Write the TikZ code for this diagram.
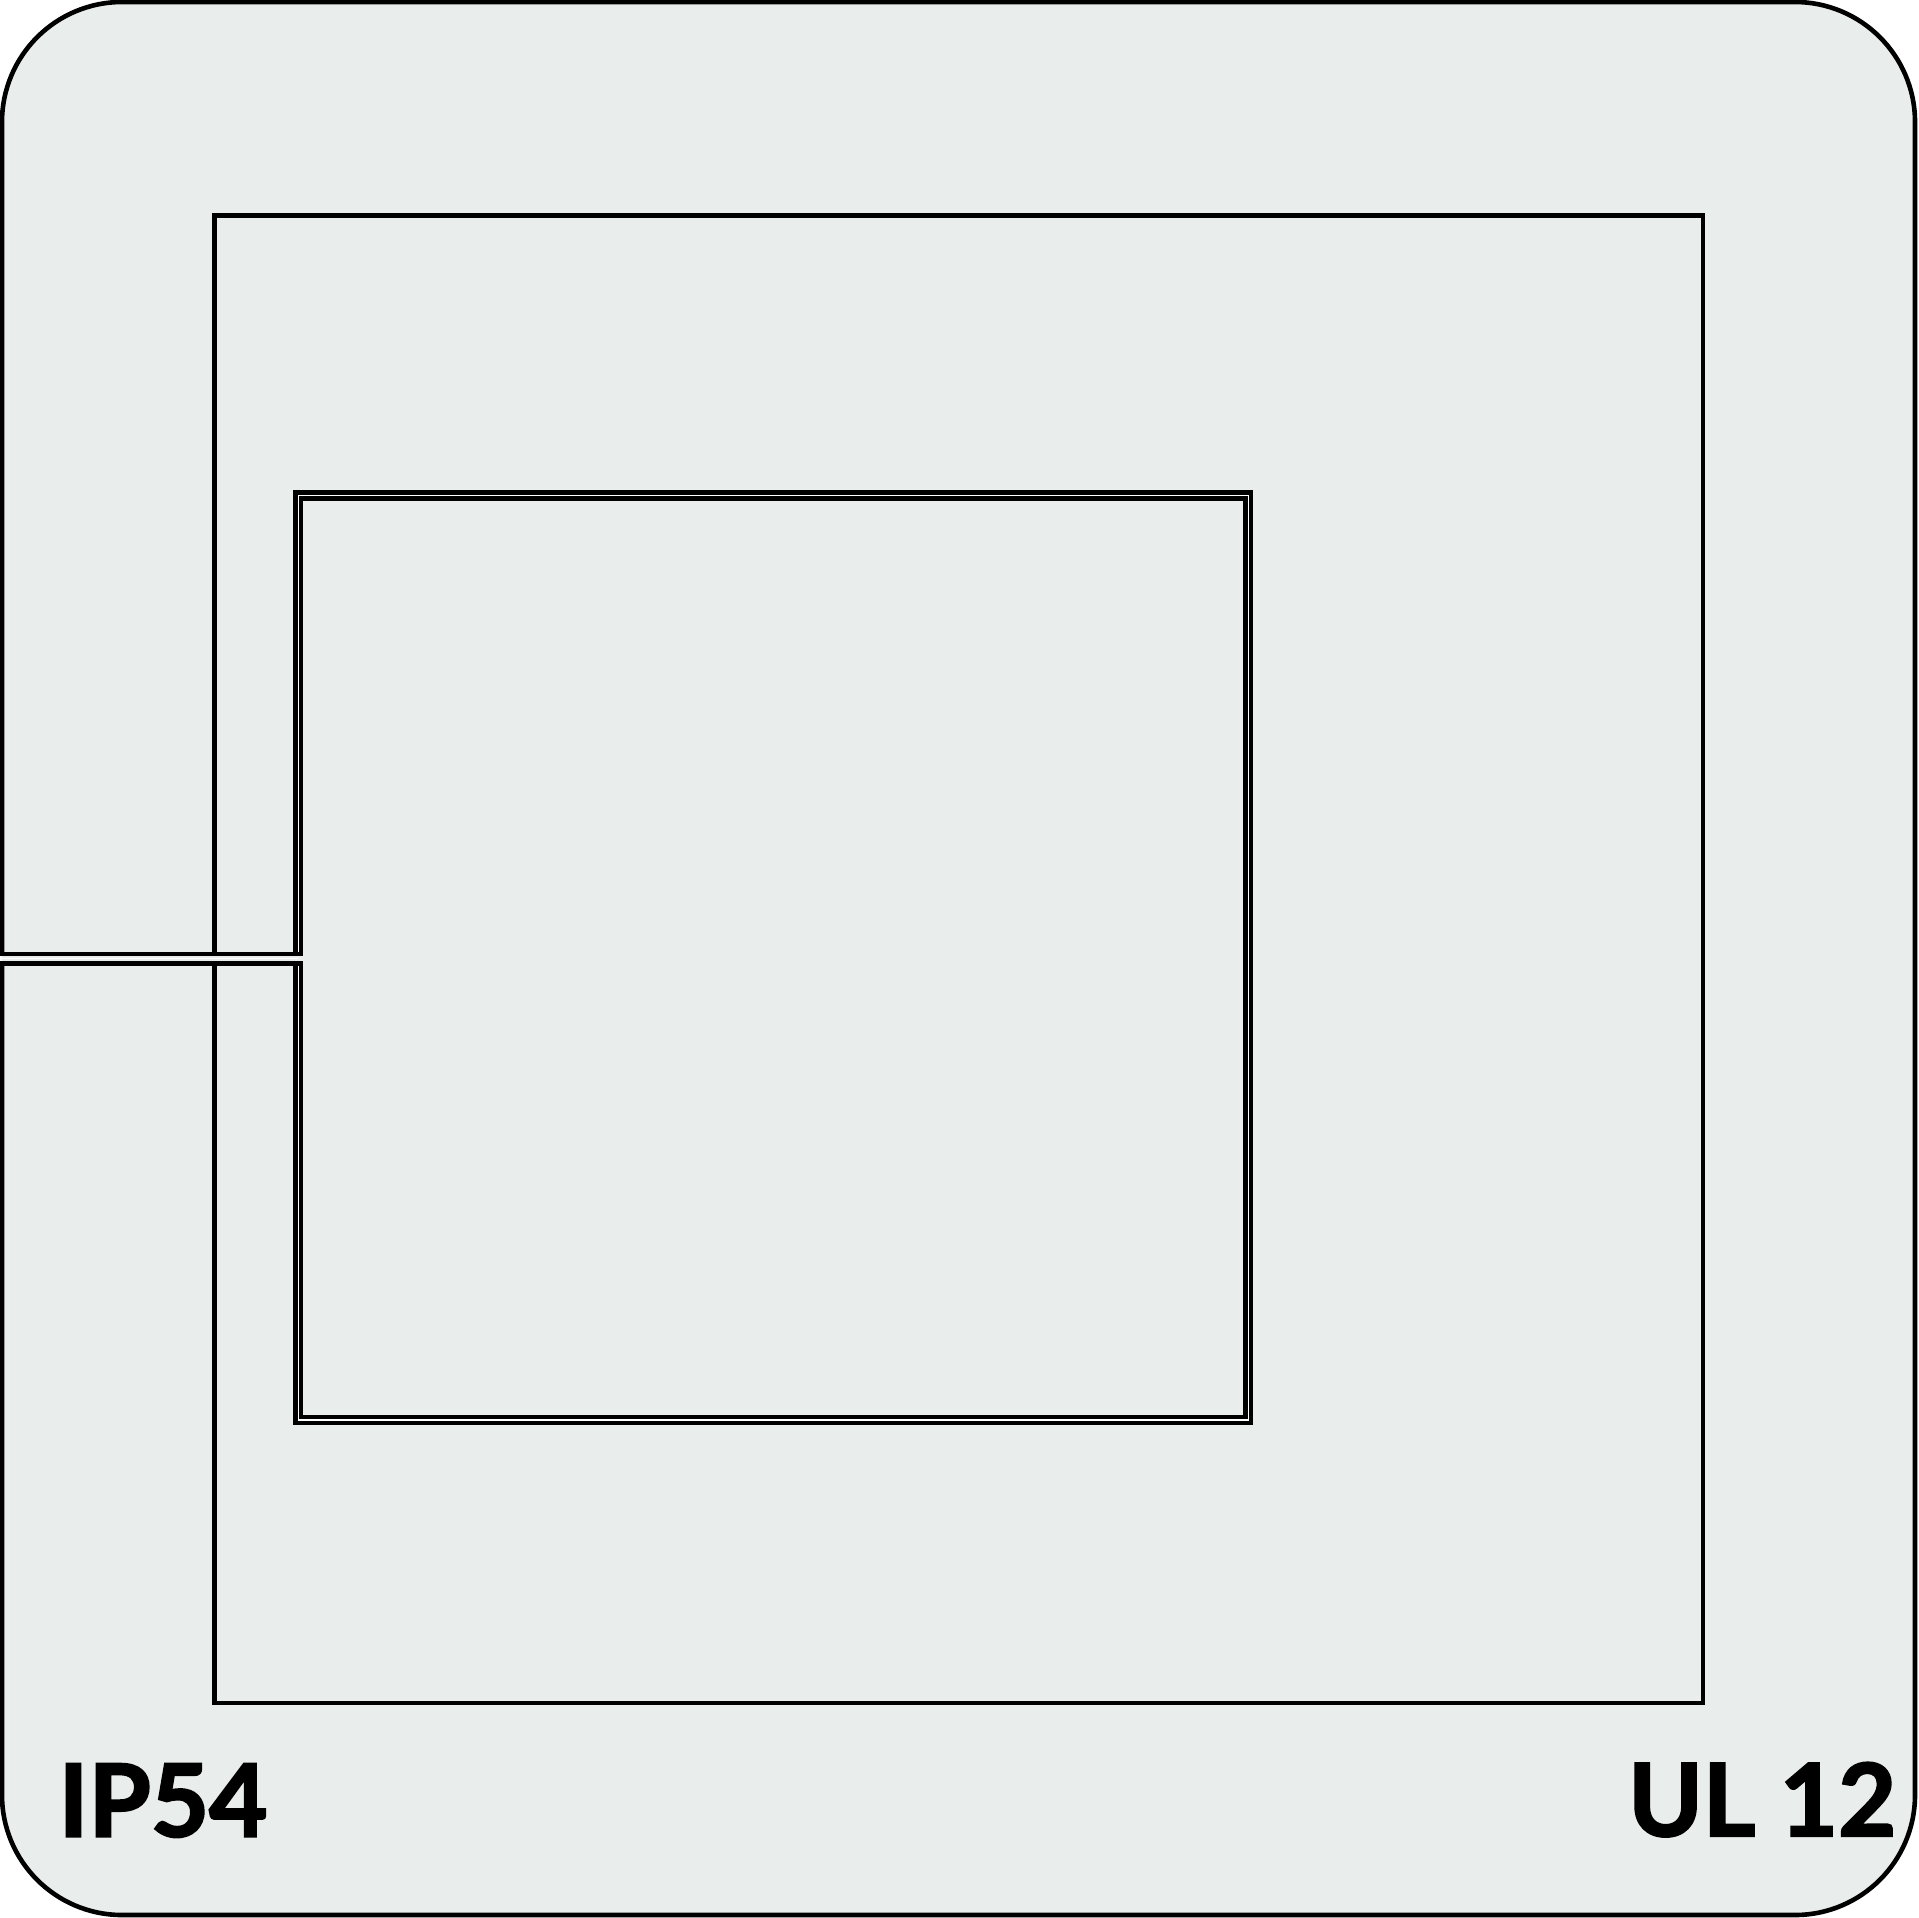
\documentclass[tikz,border=0pt]{standalone}
\usepackage{fontspec}
\newfontfamily\labelfont[FakeBold=2.2]{Lato Bold}
\definecolor{plate}{RGB}{233,238,236}
\begin{document}
\begin{tikzpicture}[x=0.01cm,y=-0.01cm,
  edge/.style={line width=0.046cm,line join=miter,line cap=butt},
  gapline/.style={white,line width=0.013cm},
  lbl/.style={inner sep=0pt,font=\labelfont\fontsize{28.6pt}{30pt}\selectfont}]
\useasboundingbox (0,0) rectangle (1918,1918);
% plate
\fill[plate,rounded corners=1.2cm] (2,2) rectangle (1915,1915);
% white gap lines
\draw[gapline] (0,958.6) -- (298.25,958.6);
\draw[gapline] (298.25,956) -- (298.25,495.6) -- (1248.25,495.6) -- (1248.25,1420) -- (298.25,1420) -- (298.25,961);
% outer outline
\draw[edge,rounded corners=1.2cm] (2,954) -- (2,2) -- (1915,2) -- (1915,1915) -- (2,1915) -- (2,963.3);
% slit and inner hole line
\draw[edge] (0,954) -- (301,954) -- (301,498.7) -- (1245.5,498.7) -- (1245.5,1417) -- (301,1417) -- (301,963.3) -- (0,963.3);
% outer hole line
\draw[edge] (295.5,952) -- (295.5,492.5) -- (1251,492.5) -- (1251,1423) -- (295.5,1423) -- (295.5,965.3);
% middle frame
\draw[edge] (214.3,952) -- (214.3,215.3) -- (1703,215.3) -- (1703,1703) -- (214.3,1703) -- (214.3,965.3);
% labels
\node[lbl,anchor=base west] (ip) at (58,1836.5) {IP54};
\node[lbl,anchor=base east] (ul) at (1897,1836) {UL 12};
\end{tikzpicture}
\end{document}
